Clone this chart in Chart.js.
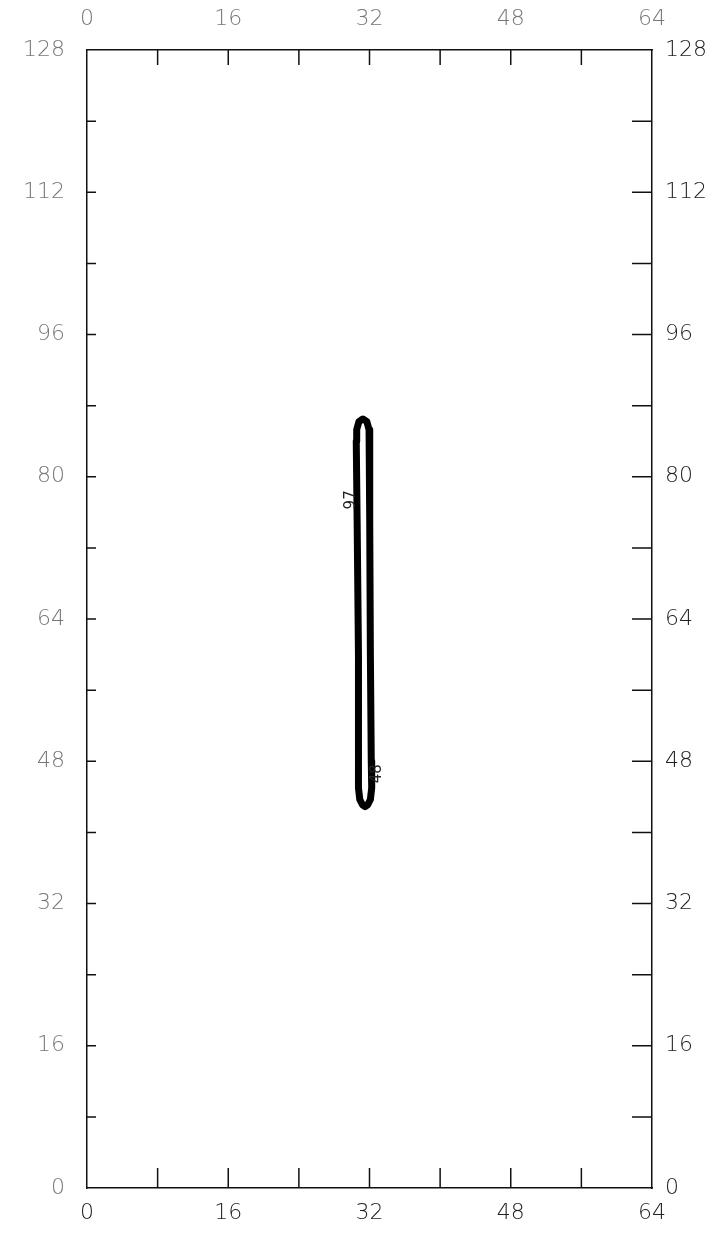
<!DOCTYPE html>
<html>
<head>
<meta charset="utf-8">
<script src="https://cdn.jsdelivr.net/npm/chart.js@4/dist/chart.umd.min.js"></script>
<style>
  html, body { margin: 0; padding: 0; background: #fff; }
  #wrap { width: 724px; height: 1236px; }
</style>
</head>
<body>
<div id="wrap"><canvas id="plot" width="724" height="1236"></canvas></div>
<script>
// axis ranges and tick labels
const xRange = [0, 64]
const yRange = [0, 128]
const labelStep = 16
const minorStep = 8

// the closed contour, walked round from the middle of its right side
const contourX = [32.1, 32.2, 32.25, 32.1, 31.8, 31.5, 31.2, 30.9, 30.75, 30.8, 30.7, 30.6, 30.5, 30.55, 30.8, 31.25, 31.7, 31.95, 32.0, 32.05, 32.1]
const contourY = [60, 48, 45, 43.7, 43.1, 42.9, 43.1, 43.7, 45, 48, 60, 75, 84, 85.3, 86.2, 86.5, 86.2, 85.3, 84, 75, 60]

// contour level labels
const levelText = ['97', '48']
const levelX = [29.9, 32.9]
const levelY = [77.4, 46.6]

const FONT = "'DejaVu Sans', 'Liberation Sans', sans-serif"

const points = contourX.map((x, i) => ({ x: x, y: contourY[i] }))

// ticks drawn inward on all four sides + contour labels
const innerTicks = {
    id: 'innerTicks',
    afterDraw(chart) {
        const ctx = chart.ctx
        const a = chart.chartArea
        const s = chart.scales
        ctx.save()
        ctx.strokeStyle = '#111'
        ctx.lineWidth = 1.5
        ctx.beginPath()
        for (let v = xRange[0] + minorStep; v < xRange[1]; v += minorStep) {
            const px = s.x.getPixelForValue(v)
            ctx.moveTo(px, a.bottom); ctx.lineTo(px, a.bottom - 20)
            ctx.moveTo(px, a.top); ctx.lineTo(px, a.top + 15)
        }
        for (let v = yRange[0] + minorStep; v < yRange[1]; v += minorStep) {
            const py = s.y.getPixelForValue(v)
            ctx.moveTo(a.left, py); ctx.lineTo(a.left + 9, py)
            ctx.moveTo(a.right, py); ctx.lineTo(a.right - 20, py)
        }
        ctx.stroke()

        ctx.fillStyle = '#222'
        ctx.font = '15px ' + FONT
        ctx.textAlign = 'center'
        ctx.textBaseline = 'middle'
        levelText.forEach((t, i) => {
            ctx.save()
            ctx.translate(s.x.getPixelForValue(levelX[i]), s.y.getPixelForValue(levelY[i]))
            ctx.rotate(-Math.PI / 2)
            ctx.fillText(t, 0, 0)
            ctx.restore()
        })
        ctx.restore()
    }
}

function axis(position, range, color, size, pad) {
    const horizontal = position === 'top' || position === 'bottom'
    return {
        type: 'linear',
        position: position,
        min: range[0],
        max: range[1],
        grid: { display: false, drawTicks: false },
        border: { display: true, color: '#111', width: 1.5 },
        ticks: {
            stepSize: labelStep,
            color: color,
            padding: pad,
            font: { family: FONT, size: 22, weight: 300 }
        },
        afterFit(scale) {
            if (horizontal) scale.height = size
            else scale.width = size
        }
    }
}

new Chart(document.getElementById('plot'), {
    type: 'scatter',
    data: {
        datasets: [{
            data: points,
            showLine: true,
            borderColor: '#000',
            borderWidth: 7,
            borderJoinStyle: 'round',
            borderCapStyle: 'round',
            pointRadius: 0,
            tension: 0,
            xAxisID: 'x',
            yAxisID: 'y'
        }]
    },
    options: {
        responsive: false,
        animation: false,
        layout: { padding: 0 },
        plugins: { legend: { display: false }, tooltip: { enabled: false } },
        scales: {
            x: axis('bottom', xRange, '#222', 48, 12),
            x2: axis('top', xRange, '#777', 50, 18),
            y: axis('left', yRange, '#777', 87, 22),
            y2: axis('right', yRange, '#222', 72, 13)
        }
    },
    plugins: [innerTicks]
})
</script>
</body>
</html>
